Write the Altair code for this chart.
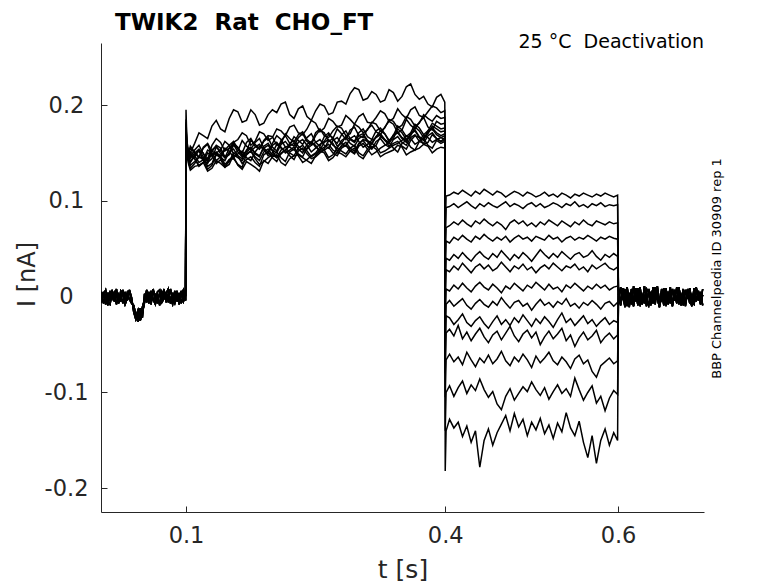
import altair as alt
import pandas as pd

# ---------------- data (currents in pA) ----------------
PRE_T = [round(0.002 + 0.0025 * i, 4) for i in range(40)]
PRE_A = [-6, 5, -8, 4, -3, 7, -5, 2, -7, 6, 3, -8, -2, 6, -4, -13, -21, -14, -25, -17,
         -6, 4, -7, 6, -3, -8, 5, 7, -6, -2, 3, 8, -7, 4, -5, 6, -8, 2, 7, -4]
PRE_B = [5, -7, 3, -9, 6, -2, 4, -8, 2, -5, 7, -6, 4, -3, -7, -9, -19, -26, -12, -22,
         3, -6, 5, -8, 6, 2, -7, 4, -4, 8, -6, 3, -2, -8, 6, -5, 4, -7, 2, 6]
PRE_C = [-4, 2, 7, -5, -8, 4, -2, 8, -6, 1, -7, 5, -4, 7, -1, -16, -24, -18, -20, -11,
         -3, 7, -2, -6, 8, -4, 2, -9, 5, -1, 4, -6, 8, -2, -7, 2, -4, 6, -5, 1]

# step 0.1-0.4 s: head (0.100, 0.101, 0.103 s), values at 0.11..0.39 s, end (0.3995 s)
STEP_HEAD_T = [0.1, 0.101, 0.103]
STEP_GRID_T = [round(0.105 + 0.005 * i, 4) for i in range(59)]
STEP_END_T = [0.3995]
S1 = [195, 162, 152, 160, 168, 178, 175, 186, 193, 184, 190, 181, 195, 201, 190, 196, 188, 194,
      199, 192, 204, 212, 216, 207, 211, 205, 213, 209, 222, 206, 201, 208, 203]
S2 = [185, 158, 150, 153, 149, 158, 161, 155, 164, 168, 162, 170, 166, 173, 177, 171, 175, 181,
      176, 183, 179, 185, 188, 182, 187, 191, 186, 190, 195, 189, 193, 197, 194]
S3 = [178, 155, 149, 150, 156, 152, 147, 158, 154, 161, 157, 163, 167, 160, 165, 169, 164, 171,
      168, 173, 176, 170, 177, 174, 180, 176, 183, 179, 185, 181, 186, 189, 187]
S4 = [182, 152, 146, 148, 143, 151, 155, 149, 156, 152, 159, 162, 156, 163, 160, 166, 162, 168,
      171, 165, 170, 174, 168, 175, 172, 177, 180, 174, 179, 182, 177, 183, 181]
S5 = [175, 158, 150, 151, 155, 147, 153, 158, 152, 157, 161, 155, 160, 164, 158, 163, 166, 161,
      167, 164, 169, 165, 171, 167, 173, 170, 168, 174, 171, 176, 173, 178, 176]
S6 = [180, 150, 145, 146, 150, 144, 152, 148, 155, 151, 149, 157, 153, 159, 156, 161, 158, 155,
      162, 166, 160, 164, 168, 163, 167, 170, 165, 171, 168, 173, 170, 175, 173]
S7 = [172, 153, 146, 144, 140, 148, 145, 151, 147, 153, 150, 155, 152, 149, 157, 154, 159, 156,
      161, 158, 163, 160, 165, 162, 167, 164, 169, 166, 170, 167, 173, 171, 170]
S8 = [176, 149, 147, 150, 146, 153, 149, 155, 151, 148, 156, 153, 158, 155, 160, 157, 154, 161,
      158, 163, 160, 165, 162, 159, 166, 163, 168, 165, 170, 166, 172, 169, 168]
S9 = [170, 151, 143, 141, 145, 139, 147, 143, 138, 149, 146, 151, 148, 153, 150, 155, 152, 149,
      156, 153, 158, 155, 160, 157, 162, 159, 164, 161, 166, 162, 168, 165, 166]
S10 = [174, 147, 144, 147, 143, 150, 146, 152, 149, 145, 151, 154, 150, 156, 153, 149, 155, 158,
       154, 160, 157, 153, 159, 162, 158, 164, 160, 157, 163, 166, 161, 165, 163]
S11 = [168, 152, 140, 139, 143, 137, 145, 141, 147, 143, 140, 148, 145, 150, 147, 152, 149, 146,
       153, 150, 155, 152, 157, 154, 151, 158, 155, 160, 156, 162, 158, 163, 162]
S12 = [171, 145, 142, 144, 140, 147, 143, 138, 145, 149, 144, 141, 148, 145, 151, 147, 143, 150,
       153, 148, 152, 155, 150, 154, 157, 152, 158, 163, 165, 162, 166, 164, 164]
S13 = [166, 148, 138, 136, 140, 134, 139, 143, 137, 141, 135, 142, 146, 140, 144, 148, 142, 147,
       150, 145, 149, 152, 147, 151, 154, 149, 153, 156, 151, 155, 157, 154, 155]
# values at the in-between times 0.105, 0.115, ..., 0.395 s
M1 = [150, 171, 165, 184, 172, 195, 182, 195, 179, 190, 192, 203, 186, 199, 184,
      201, 190, 203, 201, 218, 205, 214, 203, 216, 204, 219, 211, 209, 198, 211]
M2 = [146, 158, 143, 165, 152, 161, 171, 158, 172, 163, 175, 168, 179, 169, 184,
      172, 186, 177, 189, 180, 191, 181, 194, 183, 196, 186, 198, 187, 199, 192]
M3 = [155, 145, 160, 149, 153, 162, 150, 165, 154, 168, 158, 170, 161, 172, 160,
      175, 166, 178, 168, 180, 171, 182, 173, 185, 176, 188, 178, 190, 183, 186]
M4 = [140, 152, 139, 158, 146, 160, 148, 163, 154, 166, 152, 168, 157, 170, 159,
      174, 162, 175, 164, 177, 166, 179, 169, 183, 171, 185, 175, 187, 174, 180]
M5 = [157, 146, 159, 150, 162, 149, 163, 154, 165, 151, 168, 156, 167, 159, 170,
      157, 171, 160, 173, 162, 175, 164, 176, 163, 178, 167, 180, 169, 181, 175]
M6 = [141, 153, 140, 156, 145, 158, 147, 155, 146, 160, 150, 162, 153, 164, 151,
      159, 169, 157, 167, 161, 170, 160, 173, 162, 175, 164, 177, 166, 178, 172]
M7 = [149, 136, 145, 151, 142, 154, 144, 156, 147, 158, 145, 153, 160, 150, 162,
      153, 164, 155, 166, 157, 168, 159, 170, 161, 172, 163, 174, 164, 176, 168]
M8 = [144, 154, 142, 157, 145, 159, 146, 152, 159, 149, 161, 152, 163, 153, 158,
      164, 155, 166, 157, 168, 156, 163, 169, 160, 171, 161, 173, 163, 175, 166]
M9 = [137, 146, 136, 150, 138, 144, 135, 152, 142, 154, 145, 156, 147, 158, 146,
      153, 159, 150, 161, 152, 163, 154, 165, 156, 167, 158, 169, 160, 171, 162]
M10 = [151, 140, 153, 142, 155, 145, 152, 142, 157, 147, 159, 150, 156, 146, 161,
       151, 163, 152, 158, 150, 164, 155, 167, 157, 162, 154, 168, 159, 169, 162]
M11 = [134, 146, 133, 148, 136, 150, 139, 146, 136, 151, 141, 153, 143, 155, 144,
       150, 156, 147, 158, 149, 160, 148, 155, 161, 151, 163, 153, 165, 155, 160]
M12 = [148, 137, 150, 139, 135, 148, 142, 152, 138, 145, 151, 141, 154, 140, 147,
       156, 145, 155, 149, 158, 147, 160, 150, 155, 160, 168, 159, 169, 161, 166]
M13 = [132, 137, 131, 142, 135, 146, 133, 138, 131, 139, 148, 137, 147, 145, 139,
       152, 142, 151, 146, 155, 144, 157, 146, 151, 158, 148, 153, 159, 150, 156]

TAIL_T = [0.4, 0.401] + [round(0.405 + 0.005 * i, 4) for i in range(39)] + [0.5995]
T1 = [67, 105, 106, 109, 107, 111, 108, 105, 110, 107, 112, 109, 106, 110, 108, 104, 107, 110, 108, 105,
      109, 107, 104, 106, 109, 105, 107, 104, 108, 106, 103, 107, 105, 108, 106, 104, 107, 105, 108, 106,
      104, 106]
T2 = [55, 93, 94, 97, 93, 96, 99, 95, 92, 97, 94, 98, 95, 93, 96, 99, 94, 97, 95, 92,
      96, 98, 94, 97, 93, 95, 98, 96, 93, 97, 95, 99, 94, 96, 93, 97, 95, 98, 94, 96,
      95, 96]
T3 = [36, 72, 74, 78, 75, 80, 76, 73, 79, 76, 81, 77, 74, 78, 75, 70, 77, 80, 76, 79,
      74, 77, 73, 78, 75, 80, 77, 74, 79, 76, 73, 78, 75, 80, 76, 74, 79, 77, 75, 78,
      76, 77]
T4 = [21, 58, 56, 62, 59, 64, 60, 57, 63, 60, 65, 61, 58, 62, 59, 63, 57, 61, 64, 60,
      62, 58, 63, 61, 59, 64, 60, 62, 57, 61, 63, 59, 62, 60, 64, 61, 58, 62, 60, 63,
      61, 60]
T5 = [2, 40, 38, 44, 40, 46, 41, 37, 43, 47, 42, 39, 45, 41, 48, 43, 38, 44, 40, 46,
      42, 37, 43, 49, 44, 40, 45, 41, 47, 43, 39, 44, 46, 41, 43, 48, 42, 38, 44, 41,
      45, 42]
T6 = [-10, 28, 26, 32, 28, 35, 30, 25, 31, 34, 29, 33, 27, 30, 36, 31, 26, 32, 29, 34,
      28, 31, 25, 30, 33, 29, 35, 31, 27, 32, 30, 34, 28, 31, 26, 33, 29, 32, 35, 30,
      28, 31]
T7 = [-30, 8, 6, 12, 8, 14, 9, 5, 11, 15, 10, 7, 13, 9, 4, 11, 8, 14, 10, 6,
      12, 9, 15, 11, 7, 13, 8, 10, 5, 12, 9, 14, 10, 6, 11, 8, 13, 9, 12, 7,
      10, 11]
T8 = [-48, -8, -4, -10, -6, -2, -9, -13, -7, -3, -8, -11, -5, -9, -1, -7, -12, -6, -4, -10,
      -7, -14, -8, -3, -9, -6, -11, -5, -8, -2, -10, -7, -12, -6, -9, -4, -8, -13, -7, -5,
      -10, -6]
T9 = [-68, -20, -22, -29, -24, -18, -27, -31, -25, -21, -28, -33, -26, -20, -29, -24, -30, -22, -27, -19,
      -25, -31, -23, -28, -21, -26, -32, -24, -17, -27, -23, -30, -25, -20, -28, -24, -31, -26, -22, -29,
      -25, -27]
T10 = [-80, -38, -34, -41, -30, -44, -37, -46, -39, -33, -42, -48, -40, -36, -45, -38, -31, -41, -47, -39,
       -35, -43, -37, -50, -42, -36, -44, -39, -33, -46, -40, -52, -43, -37, -45, -41, -35, -48, -42, -38,
       -44, -40]
T11 = [-105, -66, -60, -68, -63, -71, -58, -66, -73, -64, -69, -61, -70, -65, -57, -67, -72, -63, -68, -60,
       -66, -74, -62, -69, -64, -58, -67, -71, -63, -68, -75, -65, -61, -70, -66, -78, -84, -72, -68, -64,
       -70, -67]
T12 = [-140, -100, -93, -104, -95, -88, -101, -92, -98, -86, -97, -105, -99, -112, -118, -104, -96, -108, -101, -94,
       -99, -89, -97, -103, -95, -107, -99, -92, -101, -96, -104, -85, -97, -108, -100, -93, -111, -104, -119, -106,
       -98, -102]
T13 = [-182, -140, -128, -137, -131, -146, -135, -152, -140, -178, -150, -138, -155, -142, -133, -124, -140, -122, -136, -128,
       -145, -131, -139, -127, -143, -134, -148, -132, -141, -121, -137, -145, -130, -152, -168, -145, -174, -150, -138, -155,
       -142, -150]

POST_T = [round(0.6005 + 0.0025 * i, 4) for i in range(40)]
POST_A = [8, -9, 4, -11, 10, -5, 3, -10, 9, -4, 6, -8, 11, -3, -9, 5, -7, 10, -2, -11,
          8, -4, 9, -8, 3, -10, 7, -5, 10, -9, 4, -7, 8, -3, -10, 9, -5, 6, -8, 2]
POST_B = [-7, 10, -3, 8, -10, 4, -8, 11, -5, 9, -10, 3, -7, 8, 5, -9, 10, -4, 7, -8,
          -3, 9, -10, 5, -7, 8, -4, 10, -8, 3, -9, 7, -2, 9, -5, -8, 10, -4, 5, -9]
POST_C = [3, -6, 9, -8, 5, -11, 8, -3, 4, -9, 10, -6, 2, -10, 8, -4, 9, -8, 11, -5,
          4, -9, 7, -2, 10, -8, 3, -7, 9, -4, 8, -10, 5, -7, 3, -8, 9, -2, -6, 8]

STEPS = [S1, S2, S3, S4, S5, S6, S7, S8, S9, S10, S11, S12, S13]
MIDS = [M1, M2, M3, M4, M5, M6, M7, M8, M9, M10, M11, M12, M13]
TAILS = [T1, T2, T3, T4, T5, T6, T7, T8, T9, T10, T11, T12, T13]
PRES = [PRE_A, PRE_B, PRE_C]
POSTS = [POST_A, POST_B, POST_C]

X_TICKS = [0.1, 0.4, 0.6]
Y_TICKS = [-0.2, -0.1, 0, 0.1, 0.2]
X_DOMAIN = [0.0016, 0.6995]
Y_DOMAIN = [-0.2247, 0.2647]

TITLE = "TWIK2\u00a0\u00a0Rat\u00a0\u00a0CHO_FT"
CONDITION = "25 \u00b0C\u00a0\u00a0Deactivation"
SIDE = "BBP Channelpedia ID 30909 rep 1"

# ---------------- table ----------------
STEP_T = STEP_HEAD_T + STEP_GRID_T + STEP_END_T
rows = []
for k in range(13):
    s, m = STEPS[k], MIDS[k]
    core = s[3:32]
    body = []
    for i in range(29):
        body += [m[i], core[i]]
    body.append(m[29])
    step_vals = s[:3] + body + [s[32]]
    segs = [(PRE_T, PRES[k % 3]), (STEP_T, step_vals), (TAIL_T, TAILS[k]), (POST_T, POSTS[k % 3])]
    for ts, vs in segs:
        assert len(ts) == len(vs), (k, len(ts), len(vs))
        for t, v in zip(ts, vs):
            rows.append({"trace": k, "t": t, "I": v / 1000.0})
df = pd.DataFrame(rows)

FONT = "DejaVu Sans"
AX = "#262626"
W, H = 603, 469

xs = alt.Scale(domain=X_DOMAIN, nice=False, zero=False)
ys = alt.Scale(domain=Y_DOMAIN, nice=False, zero=False)

lines = alt.Chart(df).mark_line(color="black", strokeWidth=1.5, clip=True).encode(
    x=alt.X("t:Q", scale=xs, axis=alt.Axis(
        orient="bottom", values=X_TICKS, labelExpr="toString(datum.value)",
        ticks=False, tickSize=0, domain=True, domainColor=AX, domainWidth=1,
        labelFont=FONT, labelFontSize=22.5, labelColor=AX, labelPadding=30,
        labelBaseline="alphabetic", labelAlign="center",
        title="t [s]", titleFont=FONT, titleFontSize=25, titleFontWeight="normal",
        titleColor=AX, titleX=301.5, titleY=65, titleAlign="center",
        titleBaseline="alphabetic", grid=False)),
    y=alt.Y("I:Q", scale=ys, axis=alt.Axis(
        orient="left", values=Y_TICKS, labelExpr="toString(datum.value)",
        ticks=False, tickSize=0, domain=True, domainColor=AX, domainWidth=1,
        labelFont=FONT, labelFontSize=22.5, labelColor=AX, labelPadding=35,
        labelAlign="center", labelBaseline="middle",
        title="I [nA]", titleFont=FONT, titleFontSize=24, titleFontWeight="normal",
        titleColor=AX, titleX=-67, titleY=231, titleAngle=270, titleAlign="center",
        titleBaseline="alphabetic", grid=False)),
    detail="trace:N",
)

tick_df = pd.DataFrame({"t": X_TICKS + [0.3] * len(Y_TICKS),
                        "I": [0.0] * len(X_TICKS) + Y_TICKS})
ticks = alt.Chart(tick_df).mark_point(opacity=0).encode(
    x=alt.X("t:Q", scale=xs, axis=alt.Axis(
        orient="bottom", offset=-6, values=X_TICKS, domain=False, labels=False,
        ticks=True, tickSize=6, tickColor=AX, tickWidth=1, title=None, grid=False)),
    y=alt.Y("I:Q", scale=ys, axis=alt.Axis(
        orient="left", offset=-6, values=Y_TICKS, domain=False, labels=False,
        ticks=True, tickSize=6, tickColor=AX, tickWidth=1, title=None, grid=False)),
)

title_txt = alt.Chart(pd.DataFrame({"s": [TITLE]})).mark_text(
    font=FONT, fontSize=23, fontWeight="bold", color="black",
    align="left", baseline="alphabetic").encode(
    text="s:N", x=alt.value(14), y=alt.value(-13))

cond_txt = alt.Chart(pd.DataFrame({"s": [CONDITION]})).mark_text(
    font=FONT, fontSize=19, color="black",
    align="right", baseline="alphabetic").encode(
    text="s:N", x=alt.value(W), y=alt.value(5))

side_txt = alt.Chart(pd.DataFrame({"s": [SIDE]})).mark_text(
    font=FONT, fontSize=13, color="black", angle=270,
    align="center", baseline="alphabetic").encode(
    text="s:N", x=alt.value(620), y=alt.value(225.5))

chart = alt.layer(lines, ticks, title_txt, cond_txt, side_txt).resolve_axis(
    x="independent", y="independent"
).properties(
    width=W, height=H,
    autosize=alt.AutoSizeParams(type="none"),
    padding={"left": 93, "top": 35, "right": 66, "bottom": 70},
    background="white",
).configure_view(stroke=None).configure_axis(grid=False)

chart.save("out.html", embed_options={"renderer": "svg", "actions": False})
